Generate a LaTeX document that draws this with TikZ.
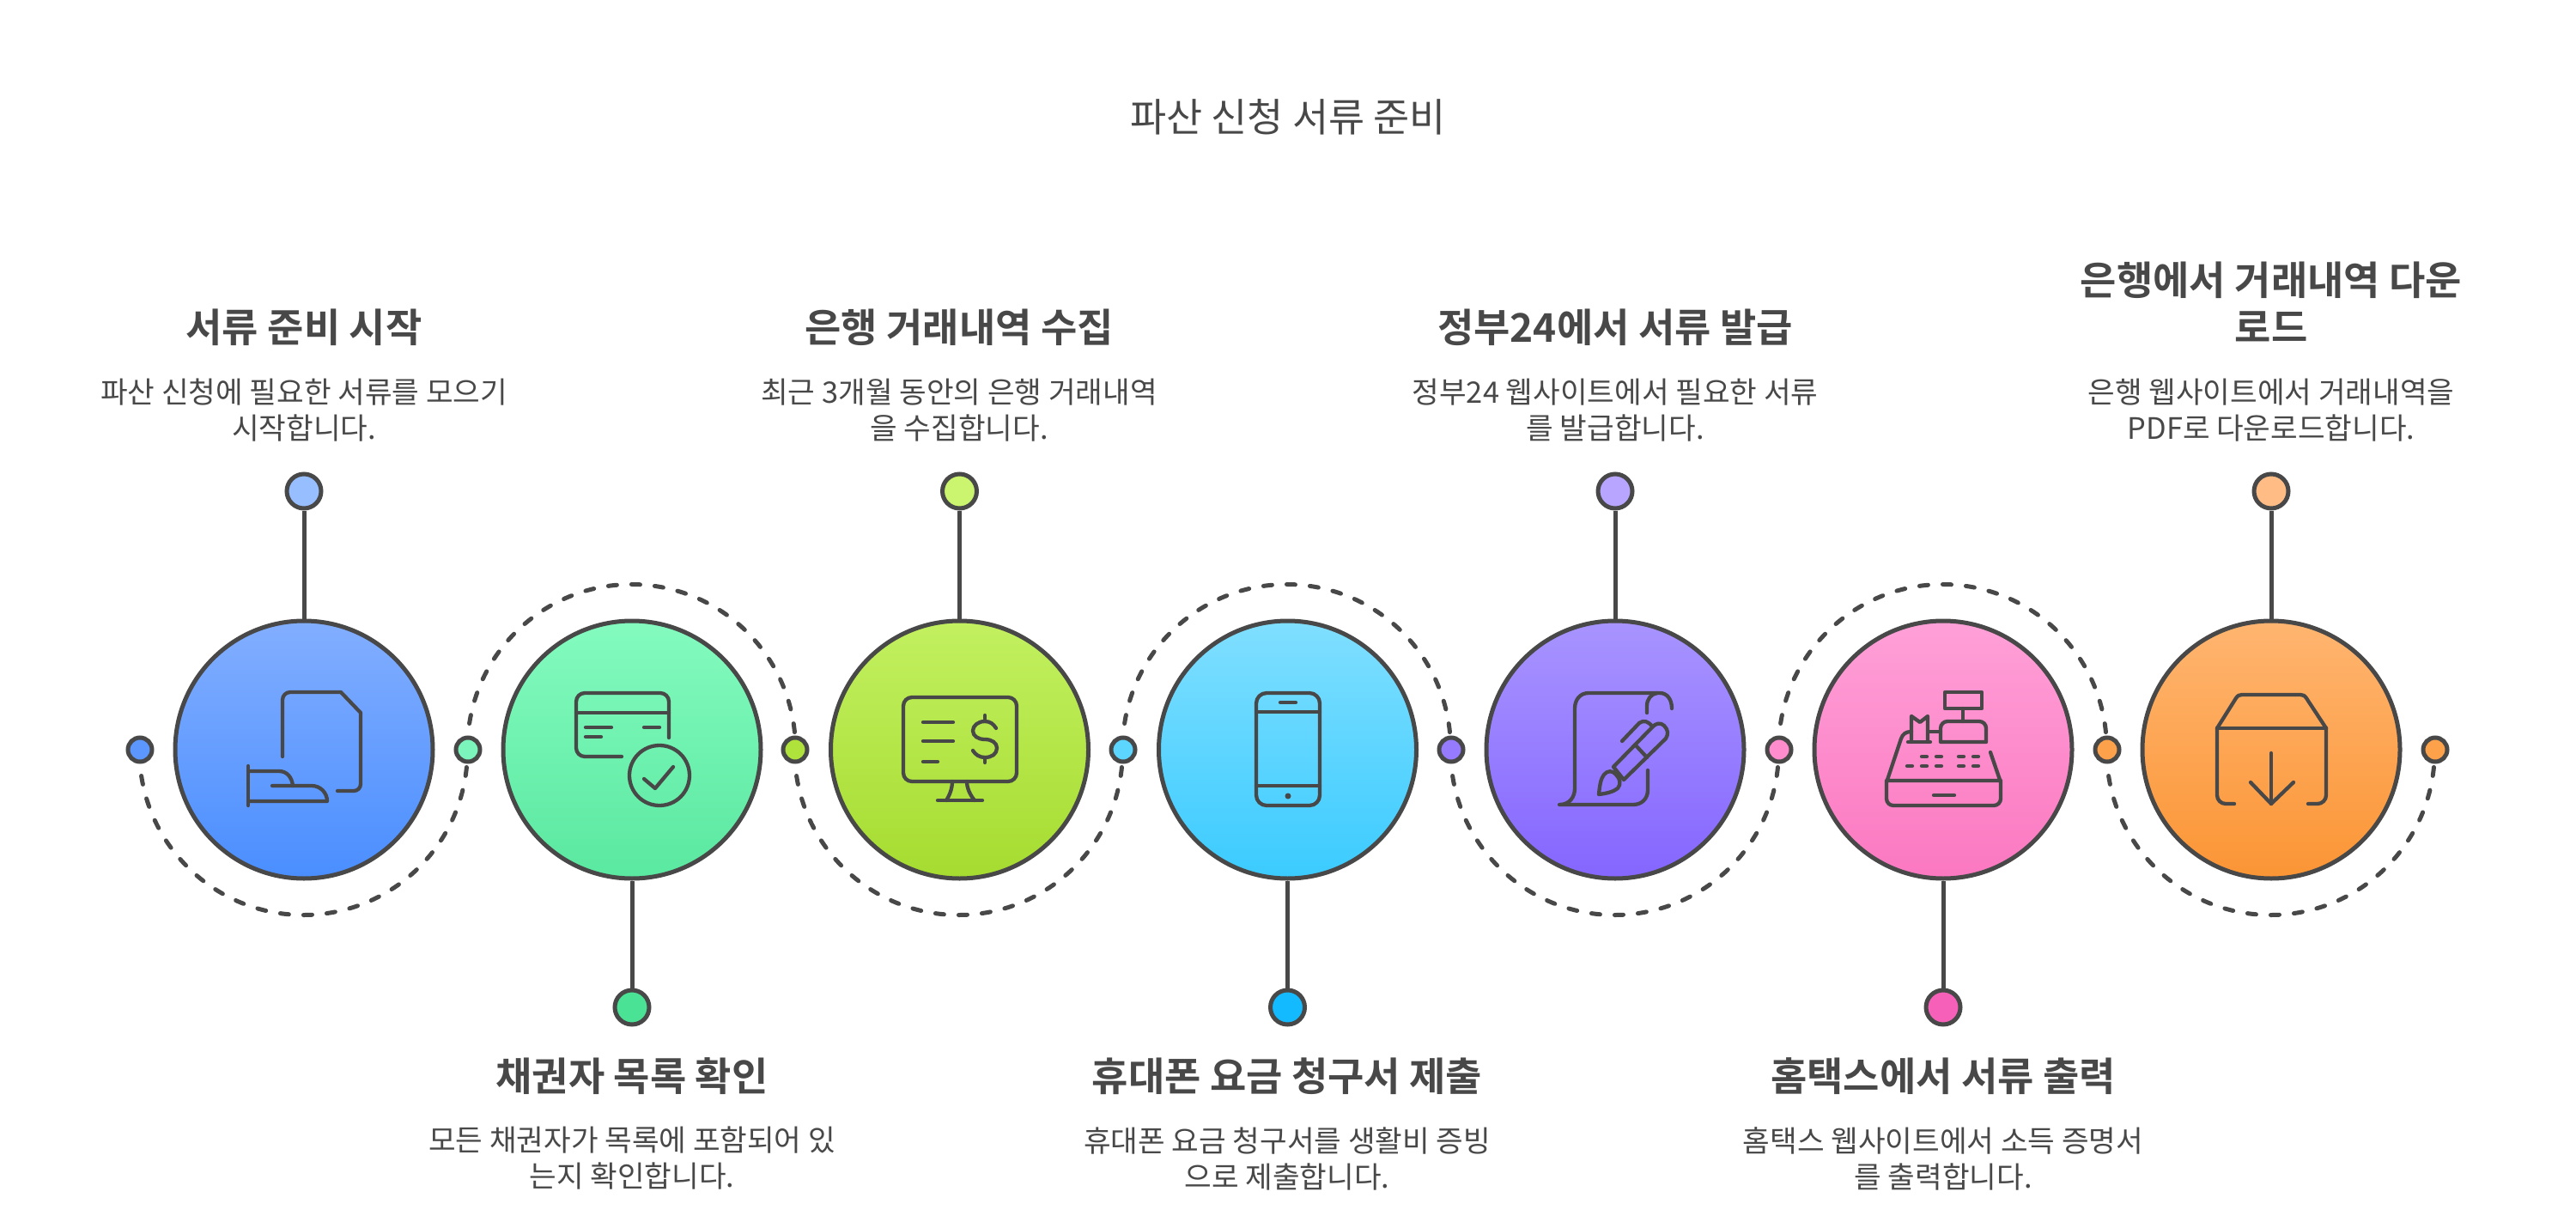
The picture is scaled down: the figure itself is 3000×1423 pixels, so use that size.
\documentclass[tikz,border=0pt]{standalone}
\usepackage{fontspec}
\setmainfont{Noto Sans CJK KR}[BoldFont={Noto Sans CJK KR Bold}]
\definecolor{ink}{HTML}{484848}
\definecolor{blueT}{HTML}{82AEFF}\definecolor{blueB}{HTML}{4A8EFF}
\definecolor{mintT}{HTML}{84FBBF}\definecolor{mintB}{HTML}{5AE8A0}
\definecolor{limeT}{HTML}{C2F060}\definecolor{limeB}{HTML}{A6DC30}
\definecolor{skyT}{HTML}{80DFFF}\definecolor{skyB}{HTML}{3BCBFF}
\definecolor{violT}{HTML}{A894FF}\definecolor{violB}{HTML}{8566FF}
\definecolor{pinkT}{HTML}{FFA0D8}\definecolor{pinkB}{HTML}{FB78C0}
\definecolor{orngT}{HTML}{FFB570}\definecolor{orngB}{HTML}{FB9535}
\definecolor{blueP}{HTML}{97BEFF}\definecolor{limeP}{HTML}{CBF56E}
\definecolor{violP}{HTML}{B8A5FF}\definecolor{orngP}{HTML}{FFBD85}
\definecolor{mintP}{HTML}{4AE396}\definecolor{skyP}{HTML}{14BAFF}\definecolor{pinkP}{HTML}{F760B8}
\definecolor{blueJ}{HTML}{5B97FF}\definecolor{mintJ}{HTML}{7BF5BC}\definecolor{limeJ}{HTML}{B0E23C}
\definecolor{skyJ}{HTML}{5CD5FF}\definecolor{violJ}{HTML}{967AFF}\definecolor{pinkJ}{HTML}{FF8CCC}\definecolor{orngJ}{HTML}{FDA24A}
\tikzset{
  big/.style={circle,draw=ink,line width=2.5pt,minimum size=150pt,inner sep=0pt,top color=#1T,bottom color=#1B},
  pin/.style={circle,draw=ink,line width=2.5pt,minimum size=20pt,inner sep=0pt,fill=#1P},
  joint/.style={circle,draw=ink,line width=2.5pt,minimum size=14pt,inner sep=0pt,fill=#1J},
  stem/.style={draw=ink,line width=2.5pt},
  arcline/.style={draw=ink,line width=2.5pt,line cap=round,dash pattern=on 5pt off 8.55pt,dash phase=6.5pt},
  icon/.style={draw=ink,line width=2.15pt,line cap=round,line join=round},
  titletext/.style={text=ink,font=\fontsize{22.9}{26}\selectfont,align=center},
  headtext/.style={text=ink,font=\fontsize{23}{27.5}\selectfont\bfseries,align=center},
  bodytext/.style={text=ink,font=\fontsize{17.2}{21}\selectfont,align=center},
}
\begin{document}
\begin{tikzpicture}[x=0.5pt,y=-0.5pt]
\useasboundingbox[fill=white] (0,0) rectangle (3000,1423);
% junction dots on the axis
\node[joint=blue] (j0) at (163,873) {};
\node[joint=mint] (j1) at (545,873) {};
\node[joint=lime] (j2) at (926,873) {};
\node[joint=sky]  (j3) at (1308,873) {};
\node[joint=viol] (j4) at (1690,873) {};
\node[joint=pink] (j5) at (2072,873) {};
\node[joint=orng] (j6) at (2454,873) {};
\node[joint=orng] (j7) at (2836,873) {};
% dashed arcs between junctions
\draw[arcline] (j0.south) arc[start angle=175.5,end angle=4.5,radius=191];
\draw[arcline] (j1.north) arc[start angle=184.5,end angle=355.5,radius=191];
\draw[arcline] (j2.south) arc[start angle=175.5,end angle=4.5,radius=191];
\draw[arcline] (j3.north) arc[start angle=184.5,end angle=355.5,radius=191];
\draw[arcline] (j4.south) arc[start angle=175.5,end angle=4.5,radius=191];
\draw[arcline] (j5.north) arc[start angle=184.5,end angle=355.5,radius=191];
\draw[arcline] (j6.south) arc[start angle=175.5,end angle=4.5,radius=191];
% big circles
\node[big=blue] (c1) at (354,873) {};
\node[big=mint] (c2) at (736,873) {};
\node[big=lime] (c3) at (1117.5,873) {};
\node[big=sky]  (c4) at (1499.5,873) {};
\node[big=viol] (c5) at (1881,873) {};
\node[big=pink] (c6) at (2263,873) {};
\node[big=orng] (c7) at (2645,873) {};
% pins
\node[pin=blue] (p1) at (354,572) {};
\node[pin=mint] (p2) at (736,1173) {};
\node[pin=lime] (p3) at (1117.5,572) {};
\node[pin=sky]  (p4) at (1499.5,1173) {};
\node[pin=viol] (p5) at (1881,572) {};
\node[pin=pink] (p6) at (2263,1173) {};
\node[pin=orng] (p7) at (2645,572) {};
\draw[stem] (p1) -- (c1);
\draw[stem] (p2) -- (c2);
\draw[stem] (p3) -- (c3);
\draw[stem] (p4) -- (c4);
\draw[stem] (p5) -- (c5);
\draw[stem] (p6) -- (c6);
\draw[stem] (p7) -- (c7);
% text
\node[titletext] (title) at (1500,136) {파산 신청 서류 준비};
\node[headtext] (h1) at (354,381) {서류 준비 시작};
\node[bodytext] (b1) at (354,478) {파산 신청에 필요한 서류를 모으기\\시작합니다.};
\node[headtext] (h2) at (736,1253) {채권자 목록 확인};
\node[bodytext] (b2) at (736,1349) {모든 채권자가 목록에 포함되어 있\\는지 확인합니다.};
\node[headtext] (h3) at (1117,381) {은행 거래내역 수집};
\node[bodytext] (b3) at (1117,478) {최근 3개월 동안의 은행 거래내역\\을 수집합니다.};
\node[headtext] (h4) at (1499,1253) {휴대폰 요금 청구서 제출};
\node[bodytext] (b4) at (1499,1349) {휴대폰 요금 청구서를 생활비 증빙\\으로 제출합니다.};
\node[headtext] (h5) at (1881,381) {정부24에서 서류 발급};
\node[bodytext] (b5) at (1881,478) {정부24 웹사이트에서 필요한 서류\\를 발급합니다.};
\node[headtext] (h6) at (2263,1253) {홈택스에서 서류 출력};
\node[bodytext] (b6) at (2263,1349) {홈택스 웹사이트에서 소득 증명서\\를 출력합니다.};
\node[headtext] (h7) at (2645,352) {은행에서 거래내역 다운\\로드};
\node[bodytext] (b7) at (2645,478) {은행 웹사이트에서 거래내역을\\PDF로 다운로드합니다.};
% icon 1: document and hand
\draw[icon] (329,881) -- (329,815) arc[start angle=180,end angle=270,radius=9] -- (397,806) -- (420,830) -- (420,913) arc[start angle=0,end angle=90,radius=8] -- (393,921);
\draw[icon] (289,892) -- (289,938);
\draw[icon] (289,898) -- (325,898) .. controls (334,898) and (340,905) .. (341,915);
\draw[icon] (317,915) -- (363,915) .. controls (373,915) and (381,923) .. (381,933) -- (289,933);
% icon 2: card and check
\draw[icon] (779,859) -- (779,817) arc[start angle=0,end angle=-90,radius=10] -- (681,807) arc[start angle=270,end angle=180,radius=10] -- (671,871) arc[start angle=180,end angle=90,radius=10] -- (724,881);
\draw[icon] (671,830) -- (779,830);
\draw[icon] (682,847) -- (712,847);
\draw[icon] (750,847) -- (768,847);
\draw[icon] (682,858) -- (700,858);
\draw[icon] (768,903) circle[radius=35];
\draw[icon] (750,907) -- (763,918) -- (784,893);
% icon 3: monitor
\draw[icon,rounded corners=5] (1052,812) rectangle (1184,910);
\draw[icon] (1075,841) -- (1110,841);
\draw[icon] (1075,863) -- (1110,863);
\draw[icon] (1075,887) -- (1092,887);
\draw[icon] (1147,833) -- (1147,840);
\draw[icon] (1147,882) -- (1147,888);
\draw[icon] (1160,848) .. controls (1157,843) and (1153,840) .. (1147,840) .. controls (1139,840) and (1133,845) .. (1133,851) .. controls (1133,857) and (1139,861) .. (1147,861) .. controls (1155,861) and (1161,865) .. (1161,871) .. controls (1161,878) and (1155,882) .. (1147,882) .. controls (1141,882) and (1136,879) .. (1133,874);
\draw[icon] (1109,910) .. controls (1109,918) and (1106,926) .. (1102,932);
\draw[icon] (1126,910) .. controls (1126,918) and (1130,926) .. (1135,932);
\draw[icon] (1092,932) -- (1144,932);
% icon 4: phone
\draw[icon,rounded corners=6] (1463,807) rectangle (1537,938);
\draw[icon] (1463,829) -- (1537,829);
\draw[icon] (1463,915) -- (1537,915);
\draw[icon] (1491,818) -- (1509,818);
\fill[ink] (1500,927) circle[radius=3.5];
% icon 5: scroll and pen
\draw[icon] (1947,825) .. controls (1947,815) and (1942,807) .. (1933,807) -- (1850,807) .. controls (1840,807) and (1834,815) .. (1834,825) -- (1834,918) .. controls (1834,928) and (1828,937) .. (1816,937) -- (1902,937) .. controls (1912,937) and (1919,930) .. (1919,920) -- (1919,897);
\draw[icon] (1918,830) -- (1918,822) .. controls (1918,814) and (1923,808) .. (1930,807);
\draw[icon] (1879,893) -- (1924,847) .. controls (1928,842) and (1934,841) .. (1938,845) .. controls (1943,850) and (1943,855) .. (1940,860) -- (1891,908) -- (1879,893);
\draw[icon] (1905,868) -- (1918,882);
\draw[icon] (1889,863) -- (1909,842) .. controls (1914,838) and (1920,840) .. (1924,846);
\draw[icon] (1862,925) .. controls (1863,915) and (1864,907) .. (1868,902) .. controls (1872,897) and (1878,897) .. (1882,902) .. controls (1887,907) and (1888,913) .. (1884,918) .. controls (1879,922) and (1871,924) .. (1862,925);
% icon 6: cash register
\draw[icon] (2265,806) rectangle (2308,825);
\draw[icon] (2286,825) -- (2286,840);
\draw[icon] (2260,864) -- (2260,848) arc[start angle=180,end angle=270,radius=8] -- (2305,840) arc[start angle=270,end angle=360,radius=8] -- (2313,864) -- cycle;
\draw[icon] (2247,852) -- (2260,852);
\draw[icon] (2226,864) -- (2226,834) -- (2236,841) -- (2245,834) -- (2245,864);
\draw[icon] (2222,864) -- (2248,864);
\draw[icon] (2198,908) -- (2214,860) .. controls (2216,855) and (2219,852) .. (2226,852);
\draw[icon] (2318,876) -- (2329,908);
\draw[icon] (2197,909) -- (2330,909) -- (2330,930) arc[start angle=0,end angle=90,radius=8] -- (2205,938) arc[start angle=90,end angle=180,radius=8] -- cycle;
\draw[icon] (2252,926) -- (2276,926);
\draw[icon] (2238,881) -- (2244,881);
\draw[icon] (2255,881) -- (2261,881);
\draw[icon] (2281,881) -- (2287,881);
\draw[icon] (2298,881) -- (2304,881);
\draw[icon] (2221,892) -- (2227,892);
\draw[icon] (2238,892) -- (2244,892);
\draw[icon] (2255,892) -- (2261,892);
\draw[icon] (2281,892) -- (2287,892);
\draw[icon] (2298,892) -- (2304,892);
% icon 7: box with arrow
\draw[icon] (2582,848) -- (2709,848);
\draw[icon] (2582,848) -- (2604,813) .. controls (2606,810) and (2608,809) .. (2611,809) -- (2679,809) .. controls (2682,809) and (2684,810) .. (2686,813) -- (2709,848);
\draw[icon] (2582,848) -- (2582,926) arc[start angle=180,end angle=90,radius=10] -- (2602,936);
\draw[icon] (2709,848) -- (2709,926) arc[start angle=0,end angle=90,radius=10] -- (2688,936);
\draw[icon] (2645,877) -- (2645,936);
\draw[icon] (2621,911) -- (2645,936) -- (2671,911);
\end{tikzpicture}
\end{document}
